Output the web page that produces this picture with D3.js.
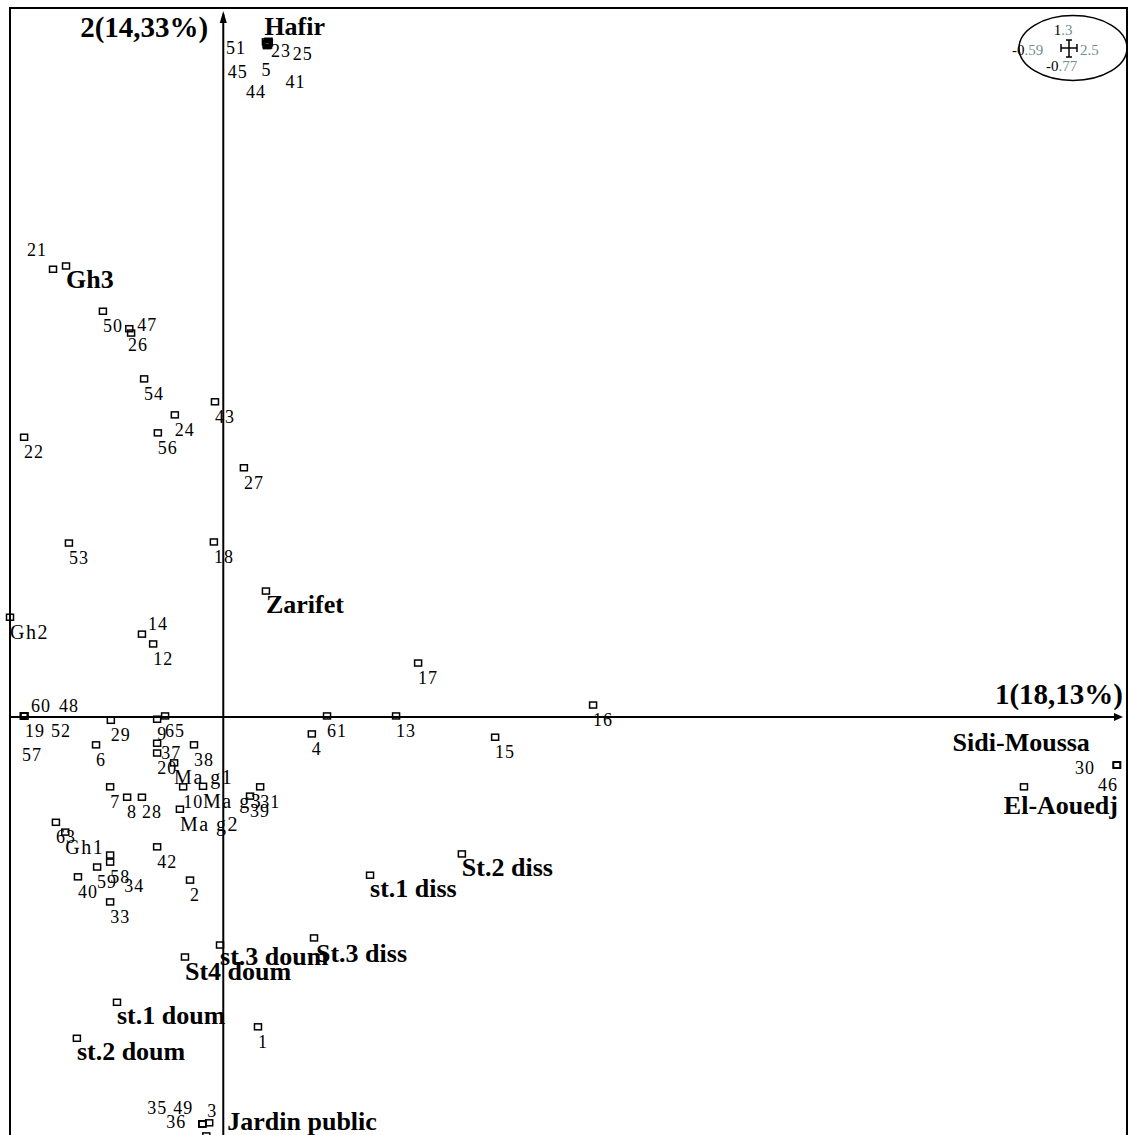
<!DOCTYPE html>
<html>
<head>
<meta charset="utf-8">
<script src="https://cdn.jsdelivr.net/npm/d3@7"></script>
<style>
  html, body { margin: 0; padding: 0; background: #fff; }
  svg { display: block; }
  text { font-family: "Liberation Serif", "Times New Roman", serif; fill: #000; }
</style>
</head>
<body>
<svg id="chart" width="1132" height="1135"></svg>
<script>
// Window of the factorial map: factor 1 (horizontal) and factor 2 (vertical)
const axis1Range = [-0.59, 2.5];
const axis2Range = [-0.77, 1.3];
const axisTitles = ["1(18,13%)", "2(14,33%)"];

// Relevés (numbered samples): coordinates on factors 1 and 2
const sampleIds = ["51","23","25","45","5","44","41","21","50","47","26","54","43","24","56","22","27","53","18","14",
  "12","17","16","13","61","4","15","60","48","19","52","57","29","9","65","37","20","38","10","31",
  "39","6","7","8","28","63","42","2","34","58","59","40","33","1","35","49","36","3","30","46"];
const sampleF1 = [0.118,0.124,0.126,0.120,0.122,0.121,0.125,-0.471,-0.333,-0.260,-0.255,-0.219,-0.023,-0.134,-0.181,-0.551,0.057,-0.427,-0.026,-0.225,
  -0.194,0.539,1.023,0.478,0.287,0.245,0.752,-0.551,-0.551,-0.551,-0.551,-0.551,-0.311,-0.183,-0.161,-0.183,-0.183,-0.081,-0.111,0.102,
  0.074,-0.352,-0.313,-0.266,-0.225,-0.463,-0.183,-0.092,-0.313,-0.313,-0.349,-0.402,-0.313,0.096,-0.058,-0.058,-0.058,-0.039,2.472,2.472];
const sampleF2 = [1.238,1.232,1.237,1.233,1.235,1.231,1.239,0.821,0.744,0.712,0.704,0.620,0.578,0.554,0.521,0.513,0.457,0.319,0.321,0.152,
  0.134,0.099,0.022,0.002,0.002,-0.031,-0.037,0.002,0.002,0.002,0.002,0.002,-0.006,-0.004,0.002,-0.048,-0.066,-0.051,-0.128,-0.128,
  -0.145,-0.051,-0.128,-0.147,-0.147,-0.193,-0.238,-0.299,-0.253,-0.266,-0.275,-0.293,-0.339,-0.568,-0.746,-0.746,-0.746,-0.744,-0.088,-0.088];

// Stations
const stationNames = ["Hafir","Gh3","Zarifet","Sidi-Moussa","El-Aouedj","St.2 diss","st.1 diss","st.3 doum","St.3 diss",
  "St4 doum","st.1 doum","st.2 doum","Jardin public"];
const stationF1 = [0.122,-0.435,0.118,2.472,2.215,0.660,0.406,-0.009,0.251,-0.106,-0.294,-0.405,-0.047];
const stationF2 = [1.235,0.827,0.231,-0.088,-0.128,-0.251,-0.290,-0.418,-0.405,-0.440,-0.523,-0.589,-0.768];

// Sites
const siteNames = ["Gh1","Gh2","Ma g1","Ma g2","Ma g3"];
const siteF1 = [-0.437,-0.590,-0.136,-0.120,-0.056];
const siteF2 = [-0.211,0.183,-0.084,-0.169,-0.127];

// ---- layout ----
const frame = { left: 10, top: 8, right: 1127, bottom: 1137 };

// Label placement around crowded points (offset of label start / mid-height from the marker, px)
const labelNudge = {
  "51": [-40, 6], "23": [3, 6], "25": [24, 12], "45": [-39, 28], "5": [-6, 27], "44": [-21, 46], "41": [17, 41],
  "21": [-26, -19], "47": [8, -4], "26": [-3, 12], "14": [6, -10],
  "60": [7, -10], "48": [35, -10], "19": [1, 15], "52": [27, 15], "57": [-2, 39],
  "30": [-42, 3], "46": [-19, 20],
  "35": [-55, -16], "49": [-29, -16], "36": [-36, -2], "3": [-2, -12],
  "34": [14, 31], "37": [4, 10],
  "Hafir": [-3, -17], "Sidi-Moussa": [-27, -23, "end"], "El-Aouedj": [94, 19, "end"],
  "st.3 doum": [0, 11], "St.3 diss": [2, 15], "St4 doum": [0, 14], "Jardin public": [21, -14]
};

const kindStyle = {
  sample:  { size: 18, weight: "normal", spacing: 1,   def: [0, 15] },
  site:    { size: 20, weight: "normal", spacing: 1.5, def: [0, 15] },
  station: { size: 26, weight: "bold",   spacing: 0,   def: [0, 13] }
};

const x = d3.scaleLinear().domain(axis1Range).range([frame.left, frame.right]);
const y = d3.scaleLinear().domain(axis2Range).range([frame.bottom, frame.top]);

const svg = d3.select("#chart");

// Frame
svg.append("rect")
  .attr("x", frame.left).attr("y", frame.top)
  .attr("width", frame.right - frame.left).attr("height", frame.bottom - frame.top)
  .attr("fill", "none").attr("stroke", "#000").attr("stroke-width", 2);

// Factor axes through the origin
const ox = x(0), oy = y(0);
const axes = svg.append("g").attr("stroke", "#000").attr("stroke-width", 2);
axes.append("line").attr("x1", frame.left).attr("x2", frame.right - 8).attr("y1", oy).attr("y2", oy);
axes.append("line").attr("x1", ox).attr("x2", ox).attr("y1", frame.bottom).attr("y2", frame.top + 6);
svg.append("path")
  .attr("d", `M${frame.right - 4},${oy} L${frame.right - 13},${oy - 4} L${frame.right - 13},${oy + 4} Z`)
  .attr("fill", "#000");
svg.append("path")
  .attr("d", `M${ox},${frame.top + 3} L${ox - 3.5},${frame.top + 15} L${ox + 3.5},${frame.top + 15} Z`)
  .attr("fill", "#000");

// Axis titles
svg.append("text").text(axisTitles[0])
  .attr("x", frame.right - 4).attr("y", oy - 13)
  .attr("text-anchor", "end").attr("font-size", 29).attr("font-weight", "bold");
svg.append("text").text(axisTitles[1])
  .attr("x", ox - 15).attr("y", frame.top + 29)
  .attr("text-anchor", "end").attr("font-size", 29).attr("font-weight", "bold");

// All labelled points
const marks = [];
sampleIds.forEach((id, i) => marks.push({ label: id, f1: sampleF1[i], f2: sampleF2[i], kind: "sample" }));
siteNames.forEach((n, i) => marks.push({ label: n, f1: siteF1[i], f2: siteF2[i], kind: "site" }));
stationNames.forEach((n, i) => marks.push({ label: n, f1: stationF1[i], f2: stationF2[i], kind: "station" }));

const pts = svg.append("g");
pts.selectAll("rect").data(marks).join("rect")
  .attr("x", d => x(d.f1) - 3.5).attr("y", d => y(d.f2) - 3)
  .attr("width", 7).attr("height", 6)
  .attr("fill", "none").attr("stroke", "#000").attr("stroke-width", 1.5);

pts.selectAll("text").data(marks).join("text")
  .text(d => d.label)
  .each(function (d) {
    const st = kindStyle[d.kind];
    const n = labelNudge[d.label] || st.def;
    d3.select(this)
      .attr("x", x(d.f1) + n[0])
      .attr("y", y(d.f2) + n[1] + st.size * 0.33)
      .attr("text-anchor", n[2] || "start")
      .attr("font-size", st.size)
      .attr("font-weight", st.weight)
      .attr("letter-spacing", st.spacing);
  });

// Inset: extent of the window on both factors
const inset = svg.append("g").attr("transform", "translate(1073,48)");
inset.append("ellipse").attr("rx", 54).attr("ry", 32.5)
  .attr("fill", "none").attr("stroke", "#000").attr("stroke-width", 1.5);
const tick = inset.append("g").attr("stroke", "#000").attr("stroke-width", 1.5).attr("transform", "translate(-4,0)");
tick.append("line").attr("x1", -8).attr("x2", 8).attr("y1", 0).attr("y2", 0);
tick.append("line").attr("x1", 0).attr("x2", 0).attr("y1", -8).attr("y2", 9);
tick.append("line").attr("x1", -8).attr("x2", -8).attr("y1", -4).attr("y2", 4);
tick.append("line").attr("x1", 8).attr("x2", 8).attr("y1", -4).attr("y2", 4);
tick.append("line").attr("x1", -3).attr("x2", 3).attr("y1", -8).attr("y2", -8);
tick.append("line").attr("x1", -3).attr("x2", 3).attr("y1", 9).attr("y2", 9);

const insetLabels = [
  { v: axis2Range[1], x: -10, y: -13, anchor: "middle" },
  { v: axis1Range[0], x: -61, y: 7, anchor: "start" },
  { v: axis1Range[1], x: 7, y: 7, anchor: "start" },
  { v: axis2Range[0], x: -27, y: 23, anchor: "start" }
];
insetLabels.forEach(l => {
  const s = String(l.v);
  const cut = s.indexOf(".");
  const t = inset.append("text").attr("x", l.x).attr("y", l.y)
    .attr("text-anchor", l.anchor).attr("font-size", 15);
  if (l.v === axis1Range[1]) {
    t.append("tspan").attr("fill", "#6f9090").text(s);
  } else {
    t.append("tspan").attr("fill", "#000").text(s.slice(0, cut));
    t.append("tspan").attr("fill", "#6f9090").text(s.slice(cut));
  }
});
</script>
</body>
</html>
